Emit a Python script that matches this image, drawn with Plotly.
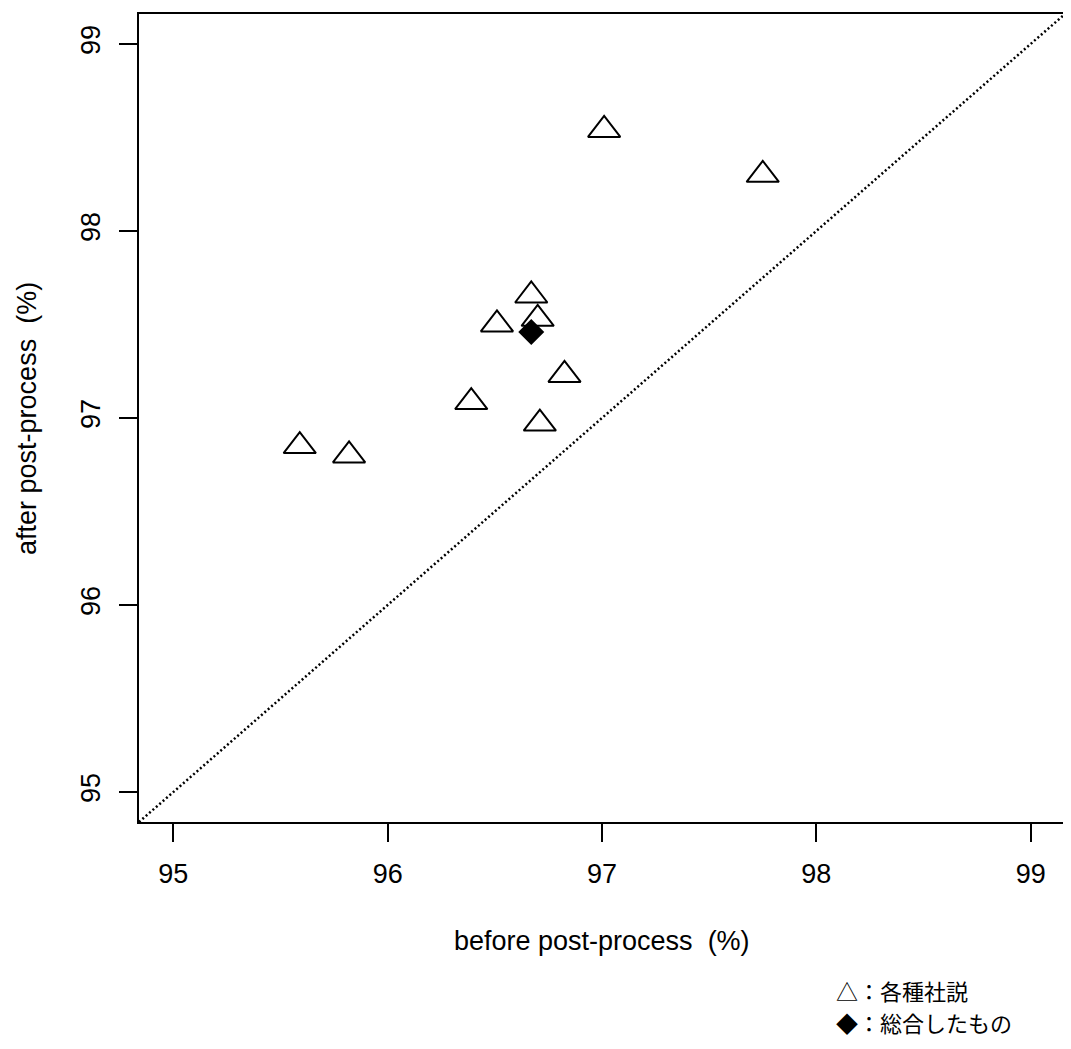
import plotly.graph_objects as go

# Data (percent)
before_each = [97.01, 97.75, 96.67, 96.51, 96.70, 96.825, 96.39, 96.71, 95.59, 95.82]
after_each = [98.54, 98.30, 97.655, 97.50, 97.53, 97.23, 97.085, 96.97, 96.85, 96.80]
before_all = [96.67]
after_all = [97.46]

tick_vals = [95, 96, 97, 98, 99]
tick_text = ["95", "96", "97", "98", "99"]
axis_min, axis_max = 95, 99
pad = 0.04 * (axis_max - axis_min)
lo, hi = axis_min - pad, axis_max + pad

x_title = "before post-process  (%)"
y_title = "after post-process  (%)"
legend_lines = ["△：各種社説", "◆：総合したもの"]

FONT = "Liberation Sans, Arial, Helvetica, sans-serif"
CJK = "Noto Sans CJK JP, sans-serif"

fig = go.Figure()

# y = x reference line
fig.add_trace(go.Scatter(
    x=[lo, hi], y=[lo, hi], mode="lines",
    line=dict(color="black", width=2.5, dash="2px,2.5px"),
    hoverinfo="skip", showlegend=False,
))

fig.add_trace(go.Scatter(
    x=before_each, y=after_each, mode="markers",
    marker=dict(symbol="triangle-up-open", size=28, color="black",
                line=dict(color="black", width=2)),
    showlegend=False,
))

fig.add_trace(go.Scatter(
    x=before_all, y=after_all, mode="markers",
    marker=dict(symbol="diamond", size=20, color="black",
                line=dict(width=0)),
    showlegend=False,
))

axis_common = dict(
    range=[lo, hi],
    tickmode="array", tickvals=tick_vals, ticktext=tick_text,
    ticks="outside", ticklen=18, tickwidth=2, tickcolor="black",
    showline=True, linecolor="black", linewidth=2, mirror=True,
    showgrid=False, zeroline=False,
    tickfont=dict(family=FONT, size=27, color="black"),
)

fig.update_layout(
    width=1063, height=1033,
    margin=dict(l=131, r=4, t=5, b=219),
    paper_bgcolor="white", plot_bgcolor="white",
    xaxis=dict(**axis_common, ticklabelstandoff=9),
    yaxis=dict(**axis_common, tickangle=-90, ticklabelstandoff=8),
    showlegend=False,
)

fig.add_annotation(
    text=x_title, xref="paper", yref="paper", x=0.5, y=-0.147,
    xanchor="center", yanchor="middle", showarrow=False,
    font=dict(family=FONT, size=27, color="black"),
)
fig.add_annotation(
    text=y_title, xref="paper", yref="paper", x=-0.121, y=0.5,
    xanchor="center", yanchor="middle", textangle=-90, showarrow=False,
    font=dict(family=FONT, size=27, color="black"),
)
legend_y = [-0.2077, -0.2472]
for txt, yy in zip(legend_lines, legend_y):
    fig.add_annotation(
        text=txt, xref="paper", yref="paper", x=0.75, y=yy,
        xanchor="left", yanchor="middle", showarrow=False,
        font=dict(family=CJK, size=22, color="black"),
    )

fig.write_html("out.html")
